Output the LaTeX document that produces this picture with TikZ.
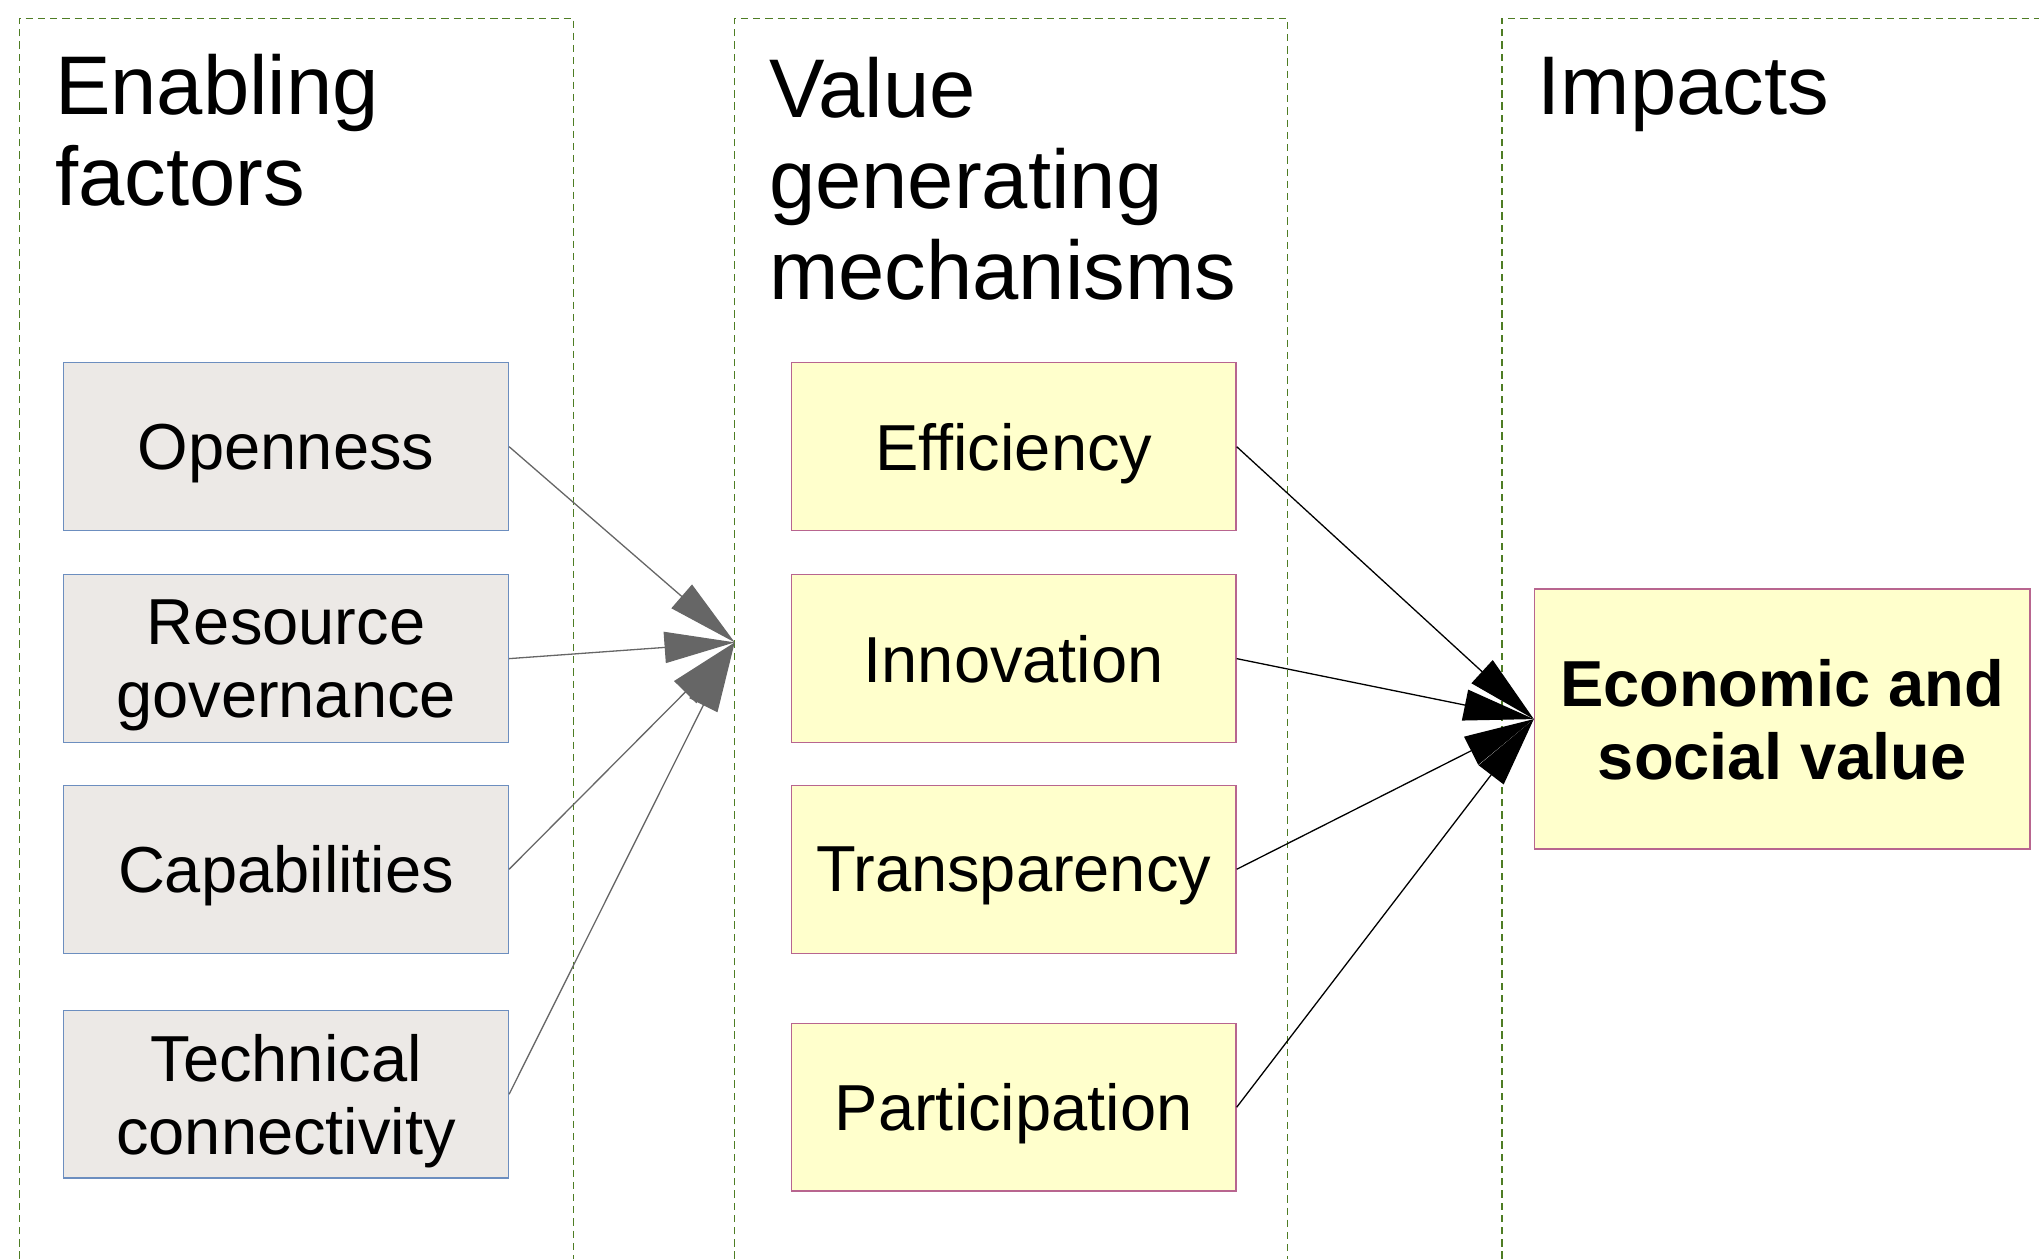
\documentclass[tikz,border=0pt]{standalone}
\usepackage{fontspec}
\setmainfont{Liberation Sans}
\usetikzlibrary{arrows.meta}

\definecolor{framegreen}{HTML}{4E7D24}
\definecolor{factorfill}{HTML}{ECE9E6}
\definecolor{factorline}{HTML}{6C8EBF}
\definecolor{mechfill}{HTML}{FFFFCC}
\definecolor{mechline}{HTML}{B8658F}
\definecolor{arrowgray}{HTML}{666666}

\newcommand\titlestyle{\fontsize{32pt}{35pt}\selectfont}
\newcommand\boxtextstyle{\fontsize{25pt}{28pt}\selectfont}

\tikzset{
  column/.style={draw=framegreen, line width=0.5pt, dash pattern=on 2.8pt off 1.9pt},
  coltitle/.style={anchor=base west, align=left, inner sep=0pt, font=\titlestyle},
  factorbox/.style={draw=factorline, fill=factorfill, line width=0.5pt,
    minimum width=171pt, minimum height=64.5pt, inner sep=0pt,
    text depth=0pt, align=center, font=\boxtextstyle},
  mechbox/.style={factorbox, draw=mechline, fill=mechfill},
  impactbox/.style={mechbox, minimum width=190.5pt, minimum height=100pt,
    font=\boxtextstyle\bfseries},
  grayarrow/.style={draw=arrowgray, line width=0.5pt,
    -{Triangle[length=27pt, width=12pt, fill=arrowgray]}},
  blackarrow/.style={draw=black, line width=0.5pt,
    -{Triangle[length=27pt, width=12pt]}},
}

\begin{document}
\begin{tikzpicture}[x=0.5pt, y=0.5pt]
  \useasboundingbox (0,0) rectangle (1568,968);

  % column frames, open at the bottom
  \draw[column] (15,0) |- (441,954) -- (441,0);
  \draw[column] (565,0) |- (990,954) -- (990,0);
  \draw[column] (1155,0) |- (1568,954);

  % column titles (placed at the baseline of their last line)
  \node[coltitle] (facttitle) at (42,810) {Enabling\\factors};
  \node[coltitle] (mechtitle) at (591,738) {Value\\generating\\mechanisms};
  \node[coltitle] (imptitle) at (1182,880) {Impacts};

  % enabling factors
  \node[factorbox] (open) at (220,624.5) {Openness};
  \node[factorbox] (resgov) at (220,461.5) {Resource\\governance};
  \node[factorbox] (capab) at (220,299.5) {Capabilities};
  \node[factorbox] (techcon) at (220,126.5) {Technical\\connectivity};

  % value generating mechanisms
  \node[mechbox] (effic) at (779.5,624.5) {Efficiency};
  \node[mechbox] (innov) at (779.5,461.5) {Innovation};
  \node[mechbox] (transp) at (779.5,299.5) {Transparency};
  \node[mechbox] (partic) at (779.5,116.5) {Participation};

  % impacts
  \node[impactbox] (value) at (1370.5,415) {Economic and\\social value};

  % arrows into the mechanisms column
  \coordinate (mechin) at (565,474);
  \draw[grayarrow] (open.east) -- (mechin);
  \draw[grayarrow] (resgov.east) -- (mechin);
  \draw[grayarrow] (capab.east) -- (mechin);
  \draw[grayarrow] (techcon.east) -- (mechin);

  % arrows into the impact
  \draw[blackarrow] (effic.east) -- (value.west);
  \draw[blackarrow] (innov.east) -- (value.west);
  \draw[blackarrow] (transp.east) -- (value.west);
  \draw[blackarrow] (partic.east) -- (value.west);
\end{tikzpicture}
\end{document}
